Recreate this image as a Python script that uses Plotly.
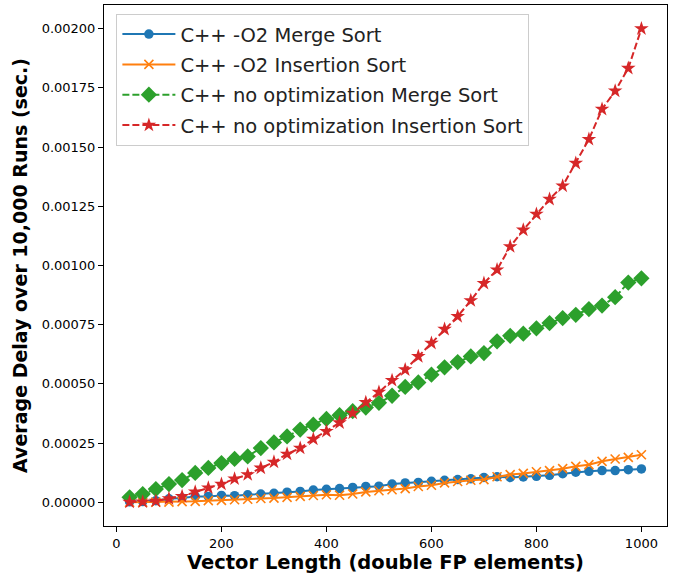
import plotly.graph_objects as go

x_len = [25, 50, 75, 100, 125, 150, 175, 200, 225, 250, 275, 300, 325, 350, 375, 400,
         425, 450, 475, 500, 525, 550, 575, 600, 625, 650, 675, 700, 725, 750, 775, 800,
         825, 850, 875, 900, 925, 950, 975, 1000]

o2_merge = [0.000002, 0.000003, 0.000007, 0.000015, 0.000018, 0.000025, 0.000025, 0.000029,
            0.000028, 0.000032, 0.000035, 0.000038, 0.000043, 0.000046, 0.000052, 0.000055,
            0.000058, 0.000063, 0.000067, 0.000068, 0.000077, 0.000082, 0.000084, 0.000089,
            0.000093, 0.000096, 0.000099, 0.000105, 0.000108, 0.000105, 0.000107, 0.000110,
            0.000114, 0.000121, 0.000127, 0.000131, 0.000134, 0.000134, 0.000138, 0.000141]

o2_insertion = [0.000000, 0.000000, 0.000001, 0.000001, 0.000003, 0.000004, 0.000007, 0.0000085,
                0.000011, 0.000013, 0.000016, 0.000018, 0.000021, 0.000025, 0.000029, 0.000032,
                0.000030, 0.000035, 0.000044, 0.000049, 0.000053, 0.000058, 0.000067, 0.000072,
                0.000082, 0.000088, 0.000093, 0.000096, 0.000108, 0.000117, 0.000122, 0.000129,
                0.000134, 0.000142, 0.000152, 0.000159, 0.000173, 0.000183, 0.000190, 0.000201]

noopt_merge = [0.000021, 0.000035, 0.000056, 0.000077, 0.000094, 0.000124, 0.000145, 0.000166,
               0.000183, 0.000194, 0.000229, 0.000253, 0.000278, 0.000307, 0.000328, 0.000352,
               0.000368, 0.000385, 0.000400, 0.000420, 0.000450, 0.000487, 0.000506, 0.000539,
               0.000570, 0.000592, 0.000616, 0.000630, 0.000680, 0.000703, 0.000712, 0.000735,
               0.000757, 0.000778, 0.000792, 0.000816, 0.000831, 0.000866, 0.000928, 0.000946]

noopt_insertion = [0.000001, 0.000002, 0.000005, 0.000016, 0.000025, 0.000044, 0.000061, 0.000077,
                   0.000099, 0.000117, 0.000145, 0.000170, 0.000204, 0.000229, 0.000267, 0.000300,
                   0.000336, 0.000377, 0.000422, 0.000465, 0.000515, 0.000560, 0.000616, 0.000672,
                   0.000731, 0.000785, 0.000852, 0.000925, 0.000982, 0.001080, 0.001150, 0.001217,
                   0.001280, 0.001336, 0.001432, 0.001533, 0.001660, 0.001737, 0.001833, 0.002000]

y_ticks = [0.0, 0.00025, 0.0005, 0.00075, 0.001, 0.00125, 0.0015, 0.00175, 0.002]
x_ticks = [0, 200, 400, 600, 800, 1000]

names = ["C++ -O2 Merge Sort", "C++ -O2 Insertion Sort",
         "C++ no optimization Merge Sort", "C++ no optimization Insertion Sort"]

dash = "7px,3px"

fig = go.Figure()
fig.add_trace(go.Scatter(x=x_len, y=o2_merge, name=names[0], mode="lines+markers",
                         legendgroup="g1",
                         line=dict(color="#1f77b4", width=2),
                         marker=dict(symbol="circle", size=9.5, color="#1f77b4")))
fig.add_trace(go.Scatter(x=x_len, y=o2_insertion, name=names[1], mode="lines+markers",
                         legendgroup="g2",
                         line=dict(color="#ff7f0e", width=2),
                         marker=dict(symbol="x-thin", size=9, color="#ff7f0e",
                                     line=dict(color="#ff7f0e", width=1.6))))
fig.add_trace(go.Scatter(x=x_len, y=noopt_merge, name=names[2], mode="lines+markers",
                         legendgroup="g3",
                         line=dict(color="#2ca02c", width=2, dash=dash),
                         marker=dict(symbol="diamond", size=12.5, color="#2ca02c")))
fig.add_trace(go.Scatter(x=x_len, y=noopt_insertion, name=names[3], mode="lines+markers",
                         legendgroup="g4",
                         line=dict(color="#d62728", width=2, dash=dash),
                         marker=dict(symbol="star", size=11, color="#d62728")))

fig.update_layout(
    width=678, height=576,
    paper_bgcolor="white", plot_bgcolor="white",
    margin=dict(l=104, r=11, t=5, b=50),
    font=dict(family="DejaVu Sans", color="black"),
    showlegend=True,
    legend=dict(x=0.022, y=0.983, xanchor="left", yanchor="top",
                bgcolor="rgba(255,255,255,0.8)", bordercolor="#cccccc", borderwidth=1,
                font=dict(size=19.5, color="#222222"), itemwidth=53,
                traceorder="grouped", tracegroupgap=2),
)
fig.update_xaxes(range=[-23.75, 1048.75], tickvals=x_ticks, ticks="outside", ticklen=5,
                 tickcolor="black", showline=True, linecolor="black", linewidth=1, mirror=True,
                 showgrid=False, zeroline=False, tickfont=dict(size=13),
                 title=dict(text="<b>Vector Length (double FP elements)</b>",
                            font=dict(size=19.5), standoff=4))
fig.update_yaxes(range=[-0.0001, 0.0021], tickvals=y_ticks, tickformat=".5f", ticks="outside",
                 ticklen=5, tickcolor="black", showline=True, linecolor="black", linewidth=1,
                 mirror=True, showgrid=False, zeroline=False, tickfont=dict(size=13),
                 title=dict(text="<b>Average Delay over 10,000 Runs (sec.)</b>",
                            font=dict(size=19), standoff=8))

fig.write_html("out.html", config={"displayModeBar": False},
               post_script="document.body.style.margin='0';")
